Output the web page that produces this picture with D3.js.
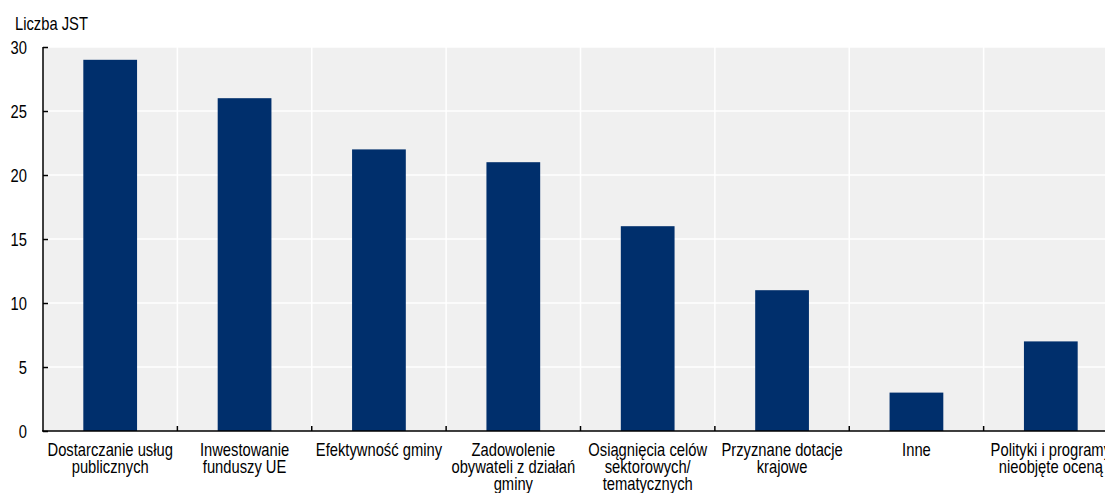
<!DOCTYPE html>
<html><head><meta charset="utf-8">
<script src="https://cdn.jsdelivr.net/npm/d3@7"></script>
<style>body{margin:0;background:#fff;overflow:hidden}svg{display:block}text{font-family:"Liberation Sans",Arial,sans-serif}</style>
</head><body>
<script>
const categories = [
  ["Dostarczanie usług", "publicznych"],
  ["Inwestowanie", "funduszy UE"],
  ["Efektywność gminy"],
  ["Zadowolenie", "obywateli z działań", "gminy"],
  ["Osiągnięcia celów", "sektorowych/", "tematycznych"],
  ["Przyznane dotacje", "krajowe"],
  ["Inne"],
  ["Polityki i programy", "nieobjęte oceną"]
];
const values = [29, 26, 22, 21, 16, 11, 3, 7];
const yTicks = [0, 5, 10, 15, 20, 25, 30];
const yTitle = "Liczba JST";

(function () {
const W = 1105, H = 493;
const pL = 43, pR = 1118, pT = 47, pB = 431;
const SX = 0.82;
const svg = d3.select("body").append("svg").attr("width", W).attr("height", H);

const x = d3.scaleBand().domain(d3.range(categories.length)).range([pL, pR]).paddingInner(0).paddingOuter(0);
const y = d3.scaleLinear().domain([0, 30]).range([pB, pT]);

svg.append("rect").attr("x", pL).attr("y", pT).attr("width", pR - pL).attr("height", pB - pT).attr("fill", "#f0f0f0");

svg.append("g").selectAll("line").data(yTicks.slice(1)).join("line")
  .attr("x1", pL).attr("x2", pR).attr("y1", d => y(d)).attr("y2", d => y(d))
  .attr("stroke", "#fff").attr("stroke-width", 1.5);
svg.append("g").selectAll("line").data(d3.range(1, categories.length)).join("line")
  .attr("x1", d => x(d)).attr("x2", d => x(d)).attr("y1", pT).attr("y2", pB)
  .attr("stroke", "#fff").attr("stroke-width", 1.5);

const bw = x.bandwidth() * 0.4;
svg.append("g").selectAll("rect").data(values).join("rect")
  .attr("x", (d, i) => x(i) + (x.bandwidth() - bw) / 2)
  .attr("width", bw)
  .attr("y", d => y(d)).attr("height", d => pB - y(d))
  .attr("fill", "#002f6c");

const ya = svg.append("g").attr("transform", `translate(${pL},0)`)
  .call(d3.axisRight(y).tickValues(yTicks).tickSize(5).tickFormat(d3.format("d")));
ya.select(".domain").attr("d", `M0,${pT}V${pB}`).attr("stroke", "#000").attr("stroke-width", 1.5);
ya.selectAll(".tick line").attr("stroke", "#000").attr("stroke-width", 1.5);
ya.selectAll(".tick text").attr("x", 0).attr("dy", null).attr("y", 6.3)
  .attr("transform", `translate(-16,0) scale(${SX},1)`)
  .attr("text-anchor", "end").attr("font-size", 18).attr("fill", "#000")
  .attr("font-family", "Liberation Sans, Arial, sans-serif");

const xb = svg.append("g");
xb.append("line").attr("x1", pL - 1).attr("x2", pR).attr("y1", pB).attr("y2", pB).attr("stroke", "#000").attr("stroke-width", 1.5);
xb.selectAll("line.t").data(d3.range(1, categories.length)).join("line").attr("class", "t")
  .attr("x1", d => x(d)).attr("x2", d => x(d)).attr("y1", pB).attr("y2", pB - 5)
  .attr("stroke", "#000").attr("stroke-width", 1.5);
const lbl = xb.selectAll("text").data(categories).join("text")
  .attr("transform", (d, i) => `translate(${x(i) + x.bandwidth() / 2},455.5) scale(${SX},1)`)
  .attr("text-anchor", "middle").attr("font-size", 18).attr("fill", "#000");
lbl.selectAll("tspan").data(d => d).join("tspan")
  .attr("x", 0)
  .attr("dy", (d, i) => i === 0 ? 0 : 17.5).text(d => d);

svg.append("text").attr("transform", `translate(15,30) scale(${SX},1)`)
  .attr("font-size", 18).attr("fill", "#000").text(yTitle);
})();
</script>
</body></html>
